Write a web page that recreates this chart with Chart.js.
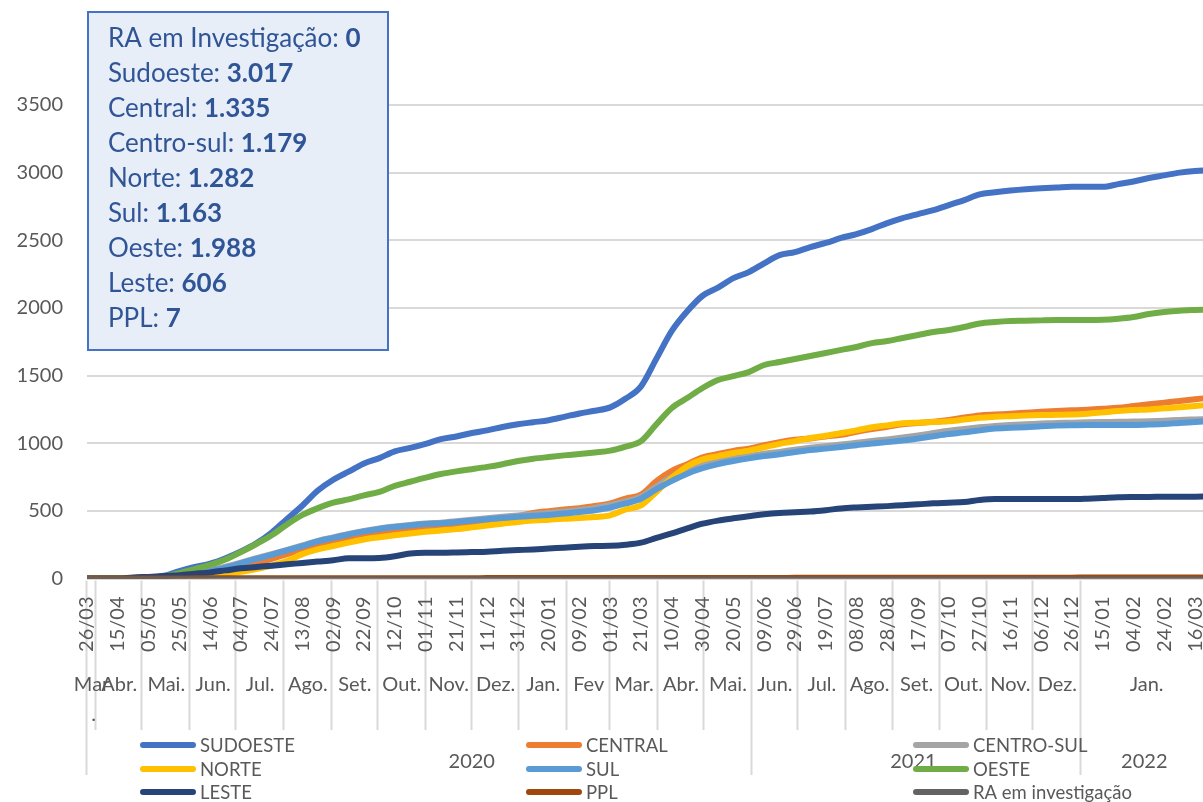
<!DOCTYPE html>
<html>
<head>
<meta charset="utf-8">
<script src="https://cdn.jsdelivr.net/npm/chart.js@4.4.1/dist/chart.umd.min.js"></script>
<style>
  html, body { margin: 0; padding: 0; overflow: hidden; background: #fff; }
  canvas { display: block; }
</style>
</head>
<body>
<canvas id="chart" width="1215" height="802"></canvas>
<script>
// one point every 10 days, last one is the final day
const dates = [
  '2020-03-26','2020-04-05','2020-04-15','2020-04-25','2020-05-05','2020-05-15','2020-05-25','2020-06-04','2020-06-14','2020-06-24',
  '2020-07-04','2020-07-14','2020-07-24','2020-08-03','2020-08-13','2020-08-23','2020-09-02','2020-09-12','2020-09-22','2020-10-02',
  '2020-10-12','2020-10-22','2020-11-01','2020-11-11','2020-11-21','2020-12-01','2020-12-11','2020-12-21','2020-12-31','2021-01-10',
  '2021-01-20','2021-01-30','2021-02-09','2021-02-19','2021-03-01','2021-03-11','2021-03-21','2021-03-31','2021-04-10','2021-04-20',
  '2021-04-30','2021-05-10','2021-05-20','2021-05-30','2021-06-09','2021-06-19','2021-06-29','2021-07-09','2021-07-19','2021-07-29',
  '2021-08-08','2021-08-18','2021-08-28','2021-09-07','2021-09-17','2021-09-27','2021-10-07','2021-10-17','2021-10-27','2021-11-06',
  '2021-11-16','2021-11-26','2021-12-06','2021-12-16','2021-12-26','2022-01-05','2022-01-15','2022-01-25','2022-02-04','2022-02-14',
  '2022-02-24','2022-03-06','2022-03-16','2022-03-24'
];

const sudoeste = [
  0,0,0,2,5,20,55,85,110,150,
  200,260,340,440,540,650,730,790,850,890,
  940,965,995,1030,1050,1075,1095,1120,1140,1155,
  1170,1195,1220,1240,1265,1330,1420,1625,1830,1975,
  2090,2150,2220,2265,2330,2390,2413,2450,2480,2517,
  2546,2583,2627,2664,2694,2723,2760,2797,2840,2855,
  2868,2878,2885,2890,2895,2895,2895,2915,2935,2960,
  2980,3000,3012,3017
];
const central = [
  0,0,0,0,0,0,3,10,25,50,
  80,110,145,180,215,250,275,300,320,340,
  355,368,380,390,400,412,425,440,460,485,
  498,510,520,536,555,590,620,720,795,845,
  895,920,943,960,985,1008,1025,1035,1050,1062,
  1085,1105,1122,1140,1150,1158,1172,1190,1205,1212,
  1218,1225,1232,1238,1243,1248,1255,1262,1275,1288,
  1300,1312,1325,1335
];
const centroSul = [
  0,0,0,0,0,5,18,35,62,88,
  118,150,180,212,245,278,304,330,352,370,
  384,396,406,413,423,434,445,456,466,475,
  484,495,507,522,543,570,605,680,750,795,
  840,868,888,906,922,936,952,966,978,990,
  1003,1016,1028,1042,1058,1075,1092,1105,1118,1128,
  1135,1140,1145,1150,1152,1155,1157,1158,1160,1162,
  1166,1172,1176,1179
];
const norte = [
  0,0,0,0,0,0,3,10,20,35,
  50,70,95,130,180,215,240,265,288,305,
  320,333,345,355,365,378,392,405,418,428,
  435,442,447,455,467,510,540,640,745,830,
  880,905,928,945,970,995,1015,1038,1055,1075,
  1095,1118,1132,1148,1152,1156,1162,1175,1188,1195,
  1200,1205,1208,1210,1212,1218,1228,1238,1245,1250,
  1258,1265,1275,1282
];
const sul = [
  0,0,0,0,0,5,15,30,55,80,
  112,145,175,208,240,275,300,325,348,366,
  380,392,402,408,418,428,438,448,456,463,
  470,480,491,505,525,555,590,660,722,775,
  815,845,868,888,905,918,935,950,960,972,
  985,998,1008,1020,1035,1052,1068,1080,1095,1108,
  1115,1118,1125,1130,1133,1135,1135,1135,1135,1138,
  1142,1150,1157,1163
];
const oeste = [
  0,0,0,1,4,15,40,70,100,140,
  195,255,320,400,470,520,560,585,615,640,
  685,715,745,772,792,808,825,845,868,885,
  898,910,920,932,945,975,1015,1140,1260,1334,
  1408,1467,1496,1526,1578,1600,1622,1645,1667,1690,
  1711,1740,1755,1778,1800,1822,1837,1859,1885,1896,
  1903,1905,1908,1910,1910,1910,1912,1920,1933,1955,
  1970,1980,1985,1988
];
const leste = [
  0,0,0,8,12,18,25,35,45,60,
  75,85,95,105,115,125,135,150,150,152,
  165,185,190,190,192,195,198,205,210,215,
  222,228,235,240,242,250,265,300,333,370,
  405,428,445,460,475,485,490,495,505,518,
  525,530,535,542,548,556,560,565,580,587,
  587,587,587,587,587,590,595,600,602,603,
  604,605,605,606
];
const ppl = [
  0,0,0,0,0,0,0,1,1,1,
  1,1,1,1,2,2,2,2,2,2,
  2,2,2,2,2,2,3,3,3,3,
  3,3,3,3,3,3,3,3,3,4,
  4,4,4,4,4,4,5,5,5,5,
  5,5,5,5,5,5,6,6,6,6,
  6,6,6,6,6,7,7,7,7,7,
  7,7,7,7
];
const raInvestigacao = [
  0,0,0,0,0,0,0,0,0,0,
  0,0,0,0,0,0,0,0,0,0,
  0,0,0,0,0,0,0,0,0,0,
  0,0,0,0,0,0,0,0,0,0,
  0,0,0,0,0,0,0,0,0,0,
  0,0,0,0,0,0,0,0,0,0,
  0,0,0,0,0,0,0,0,0,0,
  0,0,0,0
];

const seriesNames = ['SUDOESTE','CENTRAL','CENTRO-SUL','NORTE','SUL','OESTE','LESTE','PPL','RA em investigação'];
const seriesData = [sudoeste, central, centroSul, norte, sul, oeste, leste, ppl, raInvestigacao];
const seriesColors = ['#4472C4','#ED7D31','#A5A5A5','#FFC000','#5B9BD5','#70AD47','#264478','#9E480E','#636363'];

// month groups on the axis (Excel grouping as in the picture)
const monthLabels = ['Mar.','Abr.','Mai.','Jun.','Jul.','Ago.','Set.','Out.','Nov.','Dez.','Jan.','Fev','Mar.','Abr.','Mai.',
                     'Jun.','Jul.','Ago.','Set.','Out.','Nov.','Dez.','Jan.'];
const monthStarts = ['2020-03-26','2020-04-01','2020-05-01','2020-06-01','2020-07-01','2020-08-01','2020-09-01','2020-10-01',
                     '2020-11-01','2020-12-01','2021-01-01','2021-02-01','2021-03-01','2021-04-01','2021-05-01',
                     '2021-06-01','2021-07-01','2021-08-01','2021-09-01','2021-10-01','2021-11-01','2021-12-01','2022-01-01'];
const yearLabels = ['2020','2021','2022'];
const yearStarts = ['2020-03-26','2021-06-01','2022-01-01'];
const yearLabelAt = ['2020-12-01','2021-09-14','2022-02-11'];
const axisEnd = '2022-03-27';

const boxLines = [
  ['RA em Investigação: ', '0'],
  ['Sudoeste: ', '3.017'],
  ['Central: ', '1.335'],
  ['Centro-sul: ', '1.179'],
  ['Norte: ', '1.282'],
  ['Sul: ', '1.163'],
  ['Oeste: ', '1.988'],
  ['Leste: ', '606'],
  ['PPL: ', '7']
];

const FONT = 'Lato, "Open Sans", sans-serif';
const GREY = '#595959';

function dayOf(s) {
  const p = s.split('-').map(Number);
  return (Date.UTC(p[0], p[1] - 1, p[2]) - Date.UTC(2020, 2, 26)) / 86400000;
}
function ddmm(s) {
  const p = s.split('-');
  return p[2] + '/' + p[1];
}

const days = dates.map(dayOf);
const tickDays = days.filter((d, i) => i % 2 === 0 && i < dates.length - 1);
const tickText = {};
dates.forEach((s, i) => { tickText[days[i]] = ddmm(s); });

const datasets = seriesNames.map((name, i) => ({
  label: name,
  data: seriesData[i].map((v, j) => ({ x: days[j], y: v })),
  borderColor: seriesColors[i],
  backgroundColor: seriesColors[i],
  borderWidth: i === 8 ? 4 : 6,
  pointRadius: 0,
  cubicInterpolationMode: 'monotone',
  borderCapStyle: 'round',
  borderJoinStyle: 'round',
  order: seriesNames.length - 1 - i
}));

const extras = {
  id: 'extras',
  beforeDraw(chart) {
    // month / year separators, behind the date labels
    const ctx = chart.ctx;
    const xs = chart.scales.x;
    const area = chart.chartArea;
    ctx.save();
    ctx.strokeStyle = '#D9D9D9';
    ctx.lineWidth = 2;
    monthStarts.forEach(s => {
      const x = Math.round(xs.getPixelForValue(dayOf(s))) - 0.5;
      const bottom = yearStarts.includes(s) ? 775 : 730;
      ctx.beginPath();
      ctx.moveTo(x, area.bottom + 2);
      ctx.lineTo(x, bottom);
      ctx.stroke();
    });
    ctx.restore();
  },
  afterDraw(chart) {
    const ctx = chart.ctx;
    const xs = chart.scales.x;
    const px = s => xs.getPixelForValue(dayOf(s));
    ctx.save();

    // month labels
    ctx.fillStyle = GREY;
    ctx.font = '20px ' + FONT;
    ctx.textAlign = 'center';
    ctx.textBaseline = 'middle';
    monthLabels.forEach((lab, i) => {
      const x0 = px(monthStarts[i]);
      const x1 = i + 1 < monthStarts.length ? px(monthStarts[i + 1]) : xs.getPixelForValue(xs.max);
      const cx = (x0 + x1) / 2;
      if (x1 - x0 < 20) {
        ctx.fillText(lab.replace('.', ''), cx, 685);
        ctx.fillText('.', cx + 2, 715);
      } else {
        ctx.fillText(lab, cx, 685);
      }
    });

    // year labels
    yearLabels.forEach((lab, i) => {
      ctx.fillText(lab, px(yearLabelAt[i]), 762);
    });

    // legend
    const colX = [140, 526, 913];
    const rowY = [745, 769, 792];
    ctx.textAlign = 'left';
    ctx.font = '18.5px ' + FONT;
    seriesNames.forEach((name, i) => {
      const x = colX[i % 3];
      const y = rowY[Math.floor(i / 3)];
      ctx.strokeStyle = seriesColors[i];
      ctx.lineWidth = 6;
      ctx.lineCap = 'round';
      ctx.beginPath();
      ctx.moveTo(x + 3, y);
      ctx.lineTo(x + 53, y);
      ctx.stroke();
      ctx.fillStyle = GREY;
      ctx.fillText(name, x + 60, y + 1);
    });

    // text box
    ctx.fillStyle = '#E8EEF8';
    ctx.fillRect(88, 12, 300, 338);
    ctx.strokeStyle = '#4472C4';
    ctx.lineWidth = 2;
    ctx.strokeRect(88, 12, 300, 338);
    ctx.textBaseline = 'alphabetic';
    ctx.fillStyle = '#2F5597';
    boxLines.forEach((ln, i) => {
      const y = 47 + i * 35;
      ctx.font = '26px ' + FONT;
      ctx.fillText(ln[0], 108, y);
      const w = ctx.measureText(ln[0]).width;
      ctx.font = 'bold 26px ' + FONT;
      ctx.fillText(ln[1], 108 + w, y);
    });
    ctx.restore();
  }
};

new Chart(document.getElementById('chart'), {
  type: 'line',
  data: { datasets: datasets },
  options: {
    responsive: false,
    animation: false,
    devicePixelRatio: 1,
    layout: { padding: { top: 105, left: 0, right: 3, bottom: 0 } },
    plugins: { legend: { display: false }, tooltip: { enabled: false } },
    scales: {
      x: {
        type: 'linear',
        min: 0,
        max: dayOf(axisEnd),
        grid: { display: false, drawTicks: false },
        border: { display: false },
        afterBuildTicks: s => { s.ticks = tickDays.map(v => ({ value: v })); },
        afterFit: s => { s.height = 223.5; s.paddingLeft = 0; s.paddingRight = 0; },
        ticks: {
          autoSkip: false,
          minRotation: 90,
          maxRotation: 90,
          padding: 18,
          color: GREY,
          font: { family: FONT, size: 20 },
          callback: v => tickText[v] || ''
        }
      },
      y: {
        min: 0,
        max: 3500,
        grid: { color: '#D9D9D9', lineWidth: 2, drawTicks: false },
        border: { display: false },
        afterFit: s => { s.width = 87; },
        ticks: {
          stepSize: 500,
          padding: 24,
          color: GREY,
          font: { family: FONT, size: 20 },
          callback: v => String(v)
        }
      }
    }
  },
  plugins: [extras]
});
</script>
</body>
</html>
